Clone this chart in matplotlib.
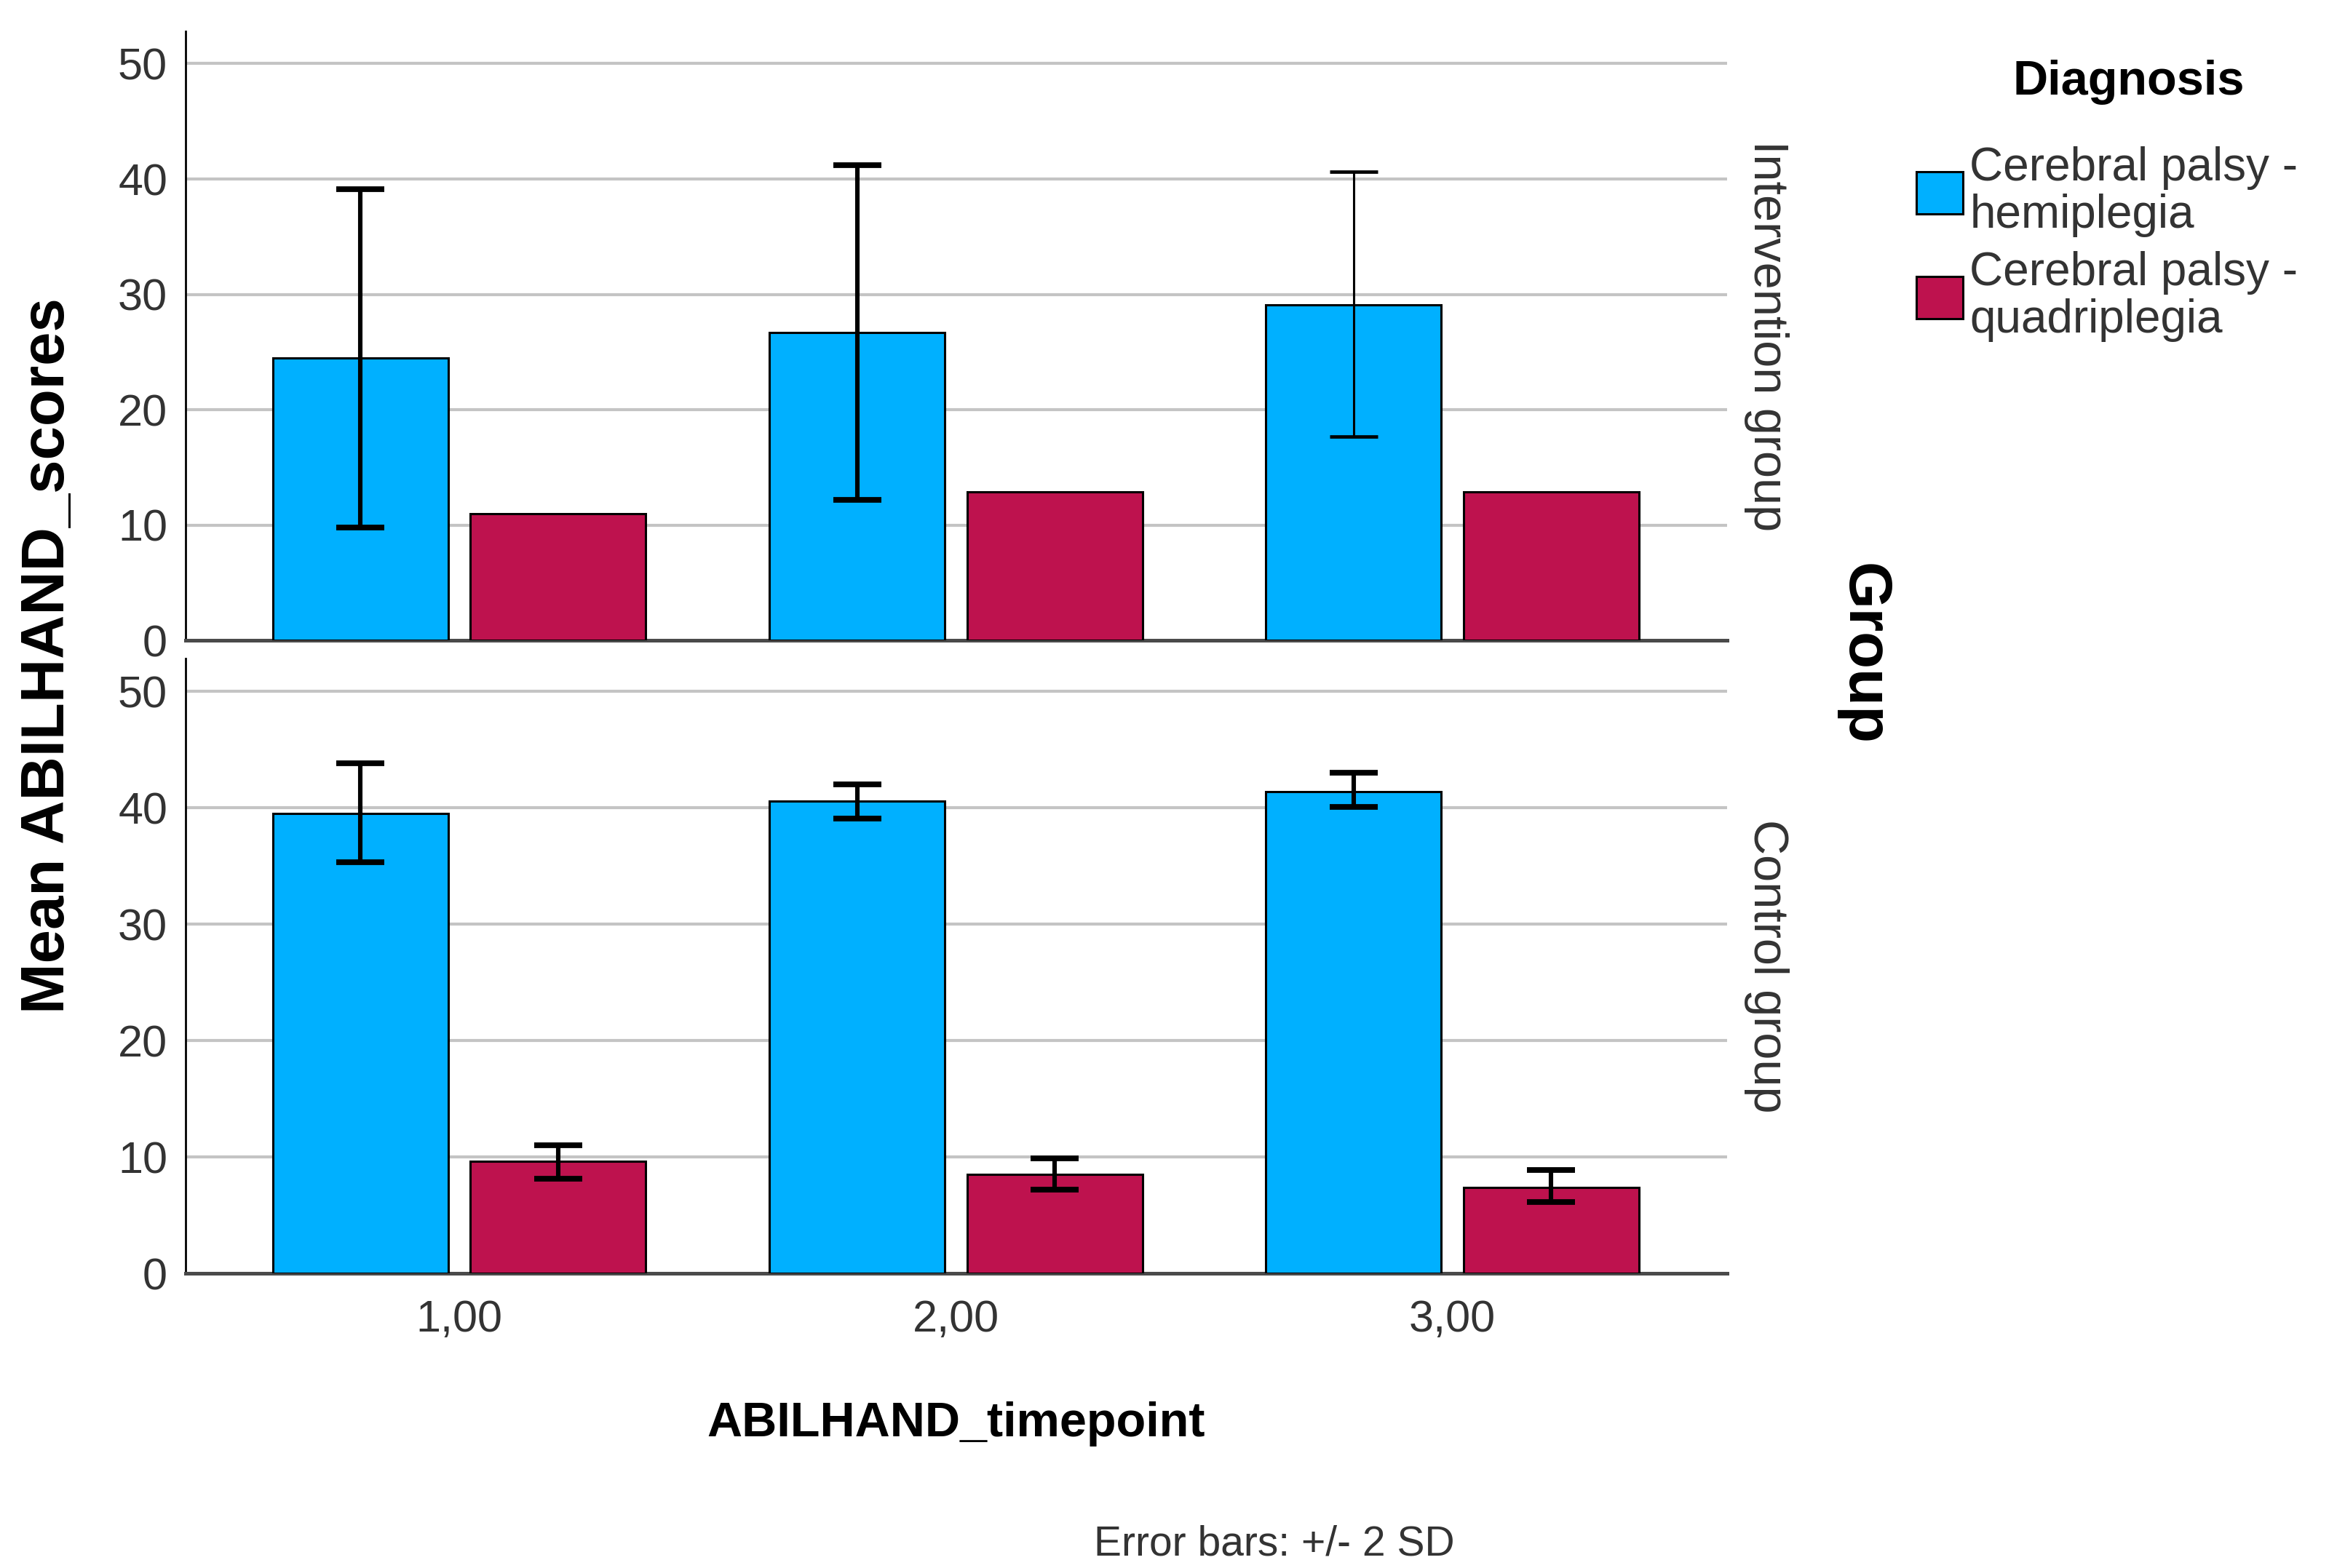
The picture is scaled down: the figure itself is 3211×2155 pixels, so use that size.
import matplotlib.pyplot as plt
import numpy as np
from matplotlib.patches import Patch

plt.rcParams['font.family'] = ['Liberation Sans', 'DejaVu Sans']

timepoints = ['1,00', '2,00', '3,00']
diagnoses = ['Cerebral palsy -\nhemiplegia', 'Cerebral palsy -\nquadriplegia']
groups = ['Intervention group', 'Control group']

# intervention group (quadriplegia has no error bar)
int_hemi = [24.5, 26.7, 29.1]
int_hemi_lo = [9.8, 12.2, 17.7]
int_hemi_hi = [39.1, 41.2, 40.6]
int_quad = [11.0, 12.9, 12.9]

# control group
ctl_hemi = [39.5, 40.6, 41.4]
ctl_hemi_lo = [35.3, 39.1, 40.1]
ctl_hemi_hi = [43.8, 42.0, 43.0]
ctl_quad = [9.6, 8.5, 7.4]
ctl_quad_lo = [8.1, 7.2, 6.1]
ctl_quad_hi = [11.0, 9.9, 8.9]

blue = '#00B0FF'
red = '#BE124E'
grid_col = '#C4C4C4'
txt_col = '#333333'

fig = plt.figure(figsize=(16.06, 10.775), dpi=200)
ax_top = fig.add_axes([0.0794, 0.5916, 0.6594, 0.3884])
ax_bot = fig.add_axes([0.0794, 0.1879, 0.6594, 0.3920])

x = np.arange(len(timepoints))
w = 0.353
off = 0.199


def errbars(ax, xs, vals, lo, hi, lw=2.2):
    vals = np.array(vals)
    err = [vals - np.array(lo), np.array(hi) - vals]
    ax.errorbar(xs, vals, yerr=err, fmt='none', ecolor='black',
                elinewidth=lw, capsize=12, capthick=lw + 0.6, zorder=4)


def style(ax):
    ax.set_xlim(-0.551, 2.553)
    ax.set_ylim(0, 52.8)
    ax.set_yticks([0, 10, 20, 30, 40, 50])
    ax.yaxis.grid(True, color=grid_col, linewidth=1.5)
    ax.set_axisbelow(True)
    for s in ['top', 'right']:
        ax.spines[s].set_visible(False)
    ax.spines['left'].set_linewidth(1.0)
    ax.spines['bottom'].set_linewidth(1.8)
    ax.spines['bottom'].set_color('#4a4a4a')
    ax.tick_params(axis='y', length=0, pad=9, labelsize=22, labelcolor=txt_col)
    ax.tick_params(axis='x', length=0, pad=13, labelsize=22, labelcolor=txt_col)


# top panel
ax_top.bar(x - off, int_hemi, w, color=blue, edgecolor='black', linewidth=1.1, zorder=3)
ax_top.bar(x + off, int_quad, w, color=red, edgecolor='black', linewidth=1.1, zorder=3)
errbars(ax_top, x[:2] - off, int_hemi[:2], int_hemi_lo[:2], int_hemi_hi[:2])
errbars(ax_top, x[2:] - off, int_hemi[2:], int_hemi_lo[2:], int_hemi_hi[2:], lw=1.1)
ax_top.set_xticks(x)
ax_top.set_xticklabels([])
style(ax_top)

# bottom panel
ax_bot.bar(x - off, ctl_hemi, w, color=blue, edgecolor='black', linewidth=1.1, zorder=3)
ax_bot.bar(x + off, ctl_quad, w, color=red, edgecolor='black', linewidth=1.1, zorder=3)
errbars(ax_bot, x - off, ctl_hemi, ctl_hemi_lo, ctl_hemi_hi)
errbars(ax_bot, x + off, ctl_quad, ctl_quad_lo, ctl_quad_hi)
ax_bot.set_xticks(x)
ax_bot.set_xticklabels(timepoints)
style(ax_bot)

# labels
fig.text(0.0205, 0.582, 'Mean ABILHAND_scores', rotation=90, fontsize=30,
         fontweight='bold', ha='center', va='center')
fig.text(0.409, 0.092, 'ABILHAND_timepoint', fontsize=24, fontweight='bold',
         ha='center', va='center')
fig.text(0.545, 0.0153, 'Error bars: +/- 2 SD', fontsize=20.5, color=txt_col,
         ha='center', va='center')
fig.text(0.7556, 0.7858, groups[0], rotation=-90, fontsize=24, color=txt_col,
         ha='center', va='center')
fig.text(0.7556, 0.3839, groups[1], rotation=-90, fontsize=24, color=txt_col,
         ha='center', va='center')
fig.text(0.797, 0.583, 'Group', rotation=-90, fontsize=30, fontweight='bold',
         ha='center', va='center')

# legend
fig.text(0.9107, 0.9475, 'Diagnosis', fontsize=24, fontweight='bold',
         ha='center', va='center')
handles = [Patch(facecolor=blue, edgecolor='black', linewidth=1.1),
           Patch(facecolor=red, edgecolor='black', linewidth=1.1)]
leg = fig.legend(handles, diagnoses, loc='upper left', bbox_to_anchor=(0.8197, 0.9067),
                 frameon=False, fontsize=23,
                 handlelength=1.0, handleheight=1.02, handletextpad=0.15,
                 labelspacing=0.3, borderpad=0, borderaxespad=0)
for t in leg.get_texts():
    t.set_color(txt_col)
    t.set_linespacing(1.1)

fig.savefig('out.png', dpi=200, facecolor='white')
